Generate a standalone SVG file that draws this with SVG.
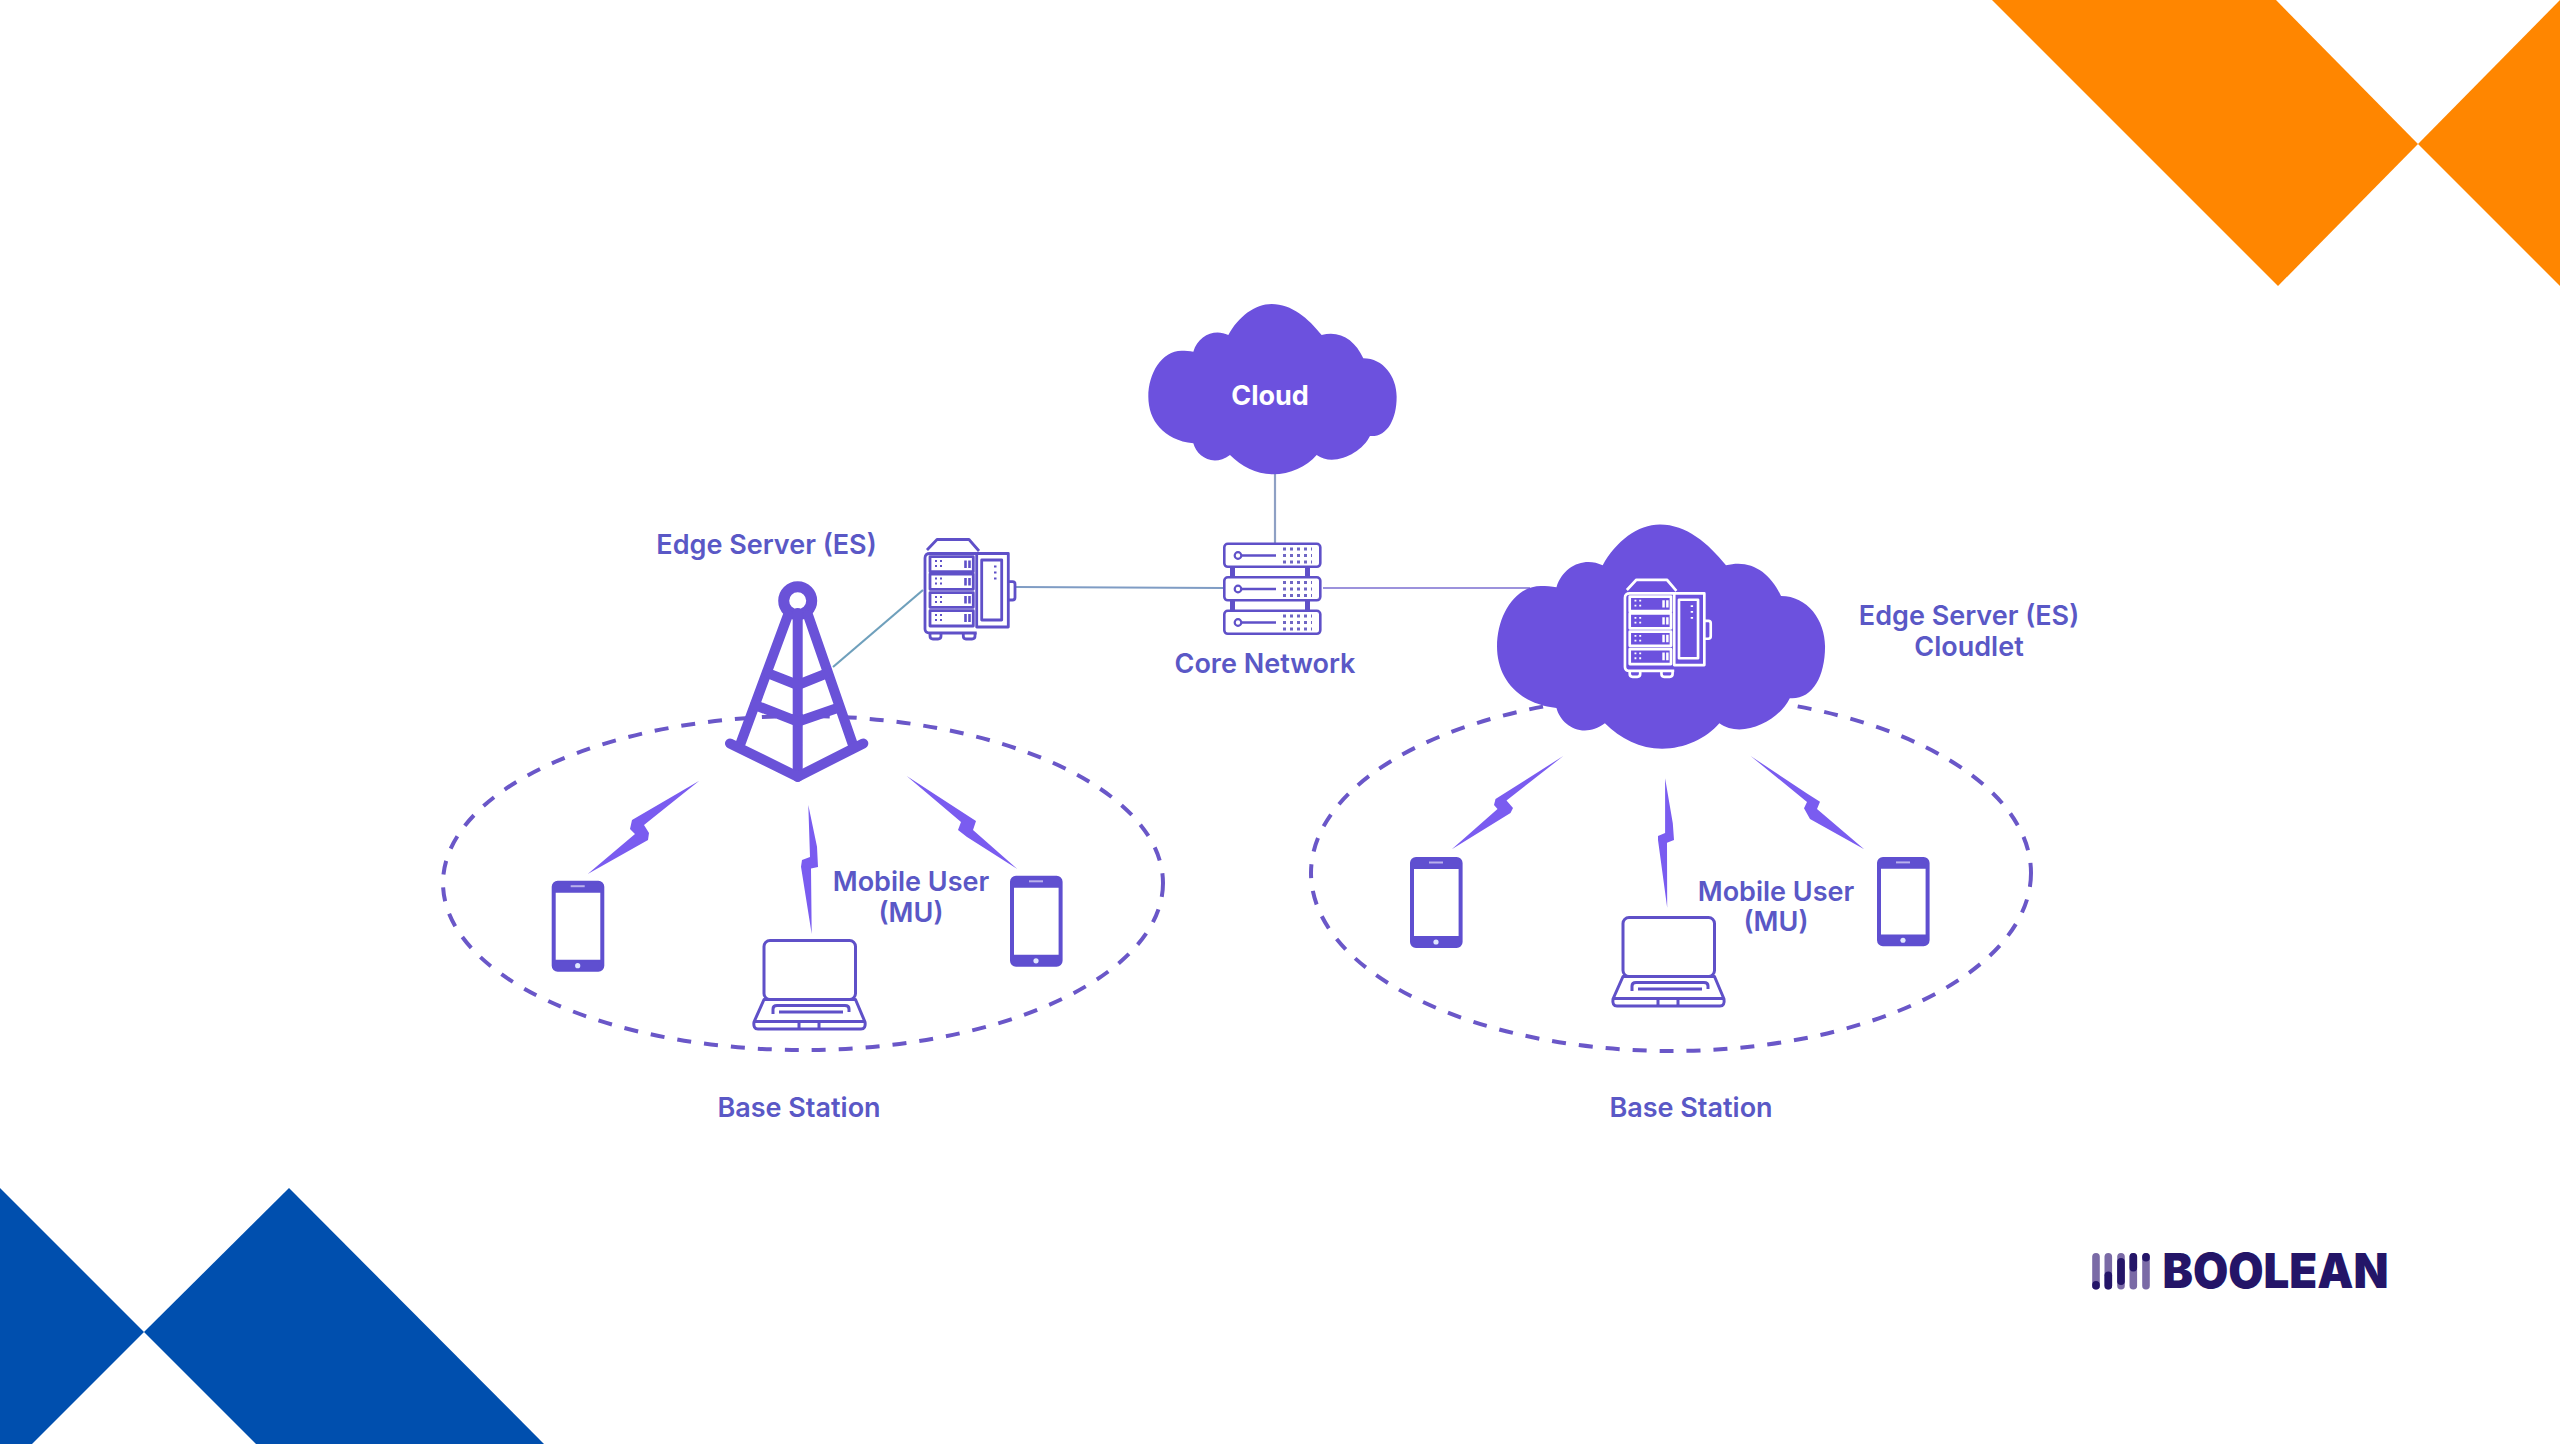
<svg xmlns="http://www.w3.org/2000/svg" width="2560" height="1444" viewBox="0 0 2560 1444">
<style>
text{font-family:Inter,"Noto Sans","Liberation Sans",sans-serif;font-weight:600;fill:#5a58c6;font-size:27px;text-anchor:middle}
.orange{fill:#ff8600}.blue{fill:#004fae}
.zone{fill:none;stroke:#6a57c8;stroke-width:4;stroke-dasharray:14 13}
.bolt{fill:#7a5cf0}
.tw{fill:none;stroke:#6a52d8;stroke-linejoin:round;stroke-linecap:round}
.ln{stroke-width:2.200;fill:none}
</style>
<defs>
<path id="cloudShape" fill="#6c51de" d="M325 165C355 110 405 72 455 72C515 72 565 115 605 165C660 150 705 180 730 235C790 235 830 290 830 350C830 420 800 472 750 468C725 520 640 562 590 525C560 560 510 583 460 583C410 583 365 560 330 525C280 562 230 530 220 490C130 480 85 420 85 350C85 280 125 212 185 212C195 212 210 213 220 215C235 165 285 145 325 165Z"/>
<g id="phone">
<rect x="2" y="2" width="48.600" height="87" rx="4" fill="#fff" stroke="#5f4fd0" stroke-width="4"/>
<path d="M2 11V6a4 4 0 0 1 4-4H46.600a4 4 0 0 1 4 4V11Z M2 80V85a4 4 0 0 0 4 4H46.600a4 4 0 0 0 4-4V80Z" fill="#5f4fd0" stroke="#5f4fd0" stroke-width="2"/>
<rect x="19" y="4.500" width="14" height="2" fill="#b9b0ec"/>
<circle cx="26" cy="85" r="2.600" fill="#dfe6ff"/>
</g>
<g id="laptop" fill="none" stroke="#5f50c8" stroke-width="3" stroke-linejoin="round">
<rect x="11" y="1.500" width="91.500" height="59" rx="6" fill="#fff"/>
<path d="M11 60.500H102.500L112 83Q113 90 108 90H5Q0 90 1 83Z" fill="#fff"/>
<path d="M1 82.500H112"/>
<path d="M20 75V70Q20 66.500 24 66.500H92Q96 66.500 96 70V73M26 73H90"/>
<path d="M46 83V90M66 83V90"/>
</g>
<g id="edgeBox" fill="none" stroke="currentColor" stroke-width="2.800" stroke-linejoin="round">
<path d="M3 12L13 1.500H45L55 13"/>
<path d="M52.700 15.500H6Q1 15.500 1 20V91Q1 95 6 95H52.700"/>
<path d="M52.700 15.500H84.300V89H52.700Z"/>
<rect x="6" y="18.700" width="43.300" height="15"/>
<rect x="6" y="36" width="43.300" height="15.300"/>
<rect x="6" y="54.700" width="43.300" height="14.600"/>
<rect x="6" y="72.700" width="43.300" height="15.300"/>
<rect x="57.700" y="22" width="20" height="60"/>
<path d="M84.300 43.700H88.500Q91 43.700 91 46V59.500Q91 62 88.500 62H84.300"/>
<path d="M6 95V98Q6 101 9 101H14Q17 101 17 98V95M39.300 95V98Q39.300 101 42 101H48Q51 101 51 98V95"/>
<path d="M41.500 22.500V30M45.500 22.500V30M41.500 40V47.500M45.500 40V47.500M41.500 58V65.500M45.500 58V65.500M41.500 76V84M45.500 76V84" stroke-width="2.600"/>
<path d="M11 23H13M16 23H18M11 28H13M16 28H18M11 40.500H13M16 40.500H18M11 45.500H13M16 45.500H18M11 59H13M16 59H18M11 64H13M16 64H18M11 77H13M16 77H18M11 82H13M16 82H18M70 28.500H72.500M70 34.500H72.500M70 40.500H72.500" stroke-width="1.800"/>
</g>
<g id="rackUnit">
<rect x="1.300" y="1.300" width="96" height="23" rx="3.500" fill="#fff" stroke="#5f50c8" stroke-width="2.600"/>
<circle cx="15" cy="13" r="3.300" fill="none" stroke="#5f50c8" stroke-width="2.200"/>
<path d="M18 13H53" stroke="#5f50c8" stroke-width="2.400"/>
<path d="M60 6.500h29M60 13h29M60 19.500h29" stroke="#6f66c4" stroke-width="3" stroke-dasharray="3 4"/>
</g>
</defs>

<rect width="2560" height="1444" fill="#fff"/>

<g id="decor">
<polygon class="orange" points="1992,0 2278,286 2418,144 2276,0"/>
<polygon class="orange" points="2560,0 2418,144 2560,286"/>
<polygon class="blue" points="0,1188 144,1332 32,1444 0,1444"/>
<polygon class="blue" points="289,1188 544,1444 256,1444 144,1332"/>
</g>

<g id="zones">
<ellipse id="zone-left" class="zone" cx="803" cy="883" rx="360" ry="167"/>
<ellipse id="zone-right" class="zone" cx="1671" cy="873" rx="360" ry="178"/>
</g>

<g id="connectors">
<line class="ln" x1="1275" y1="470" x2="1275" y2="543" stroke="#8ea0c4"/>
<line class="ln" x1="1015" y1="587" x2="1223" y2="588" stroke="#7f9cc4"/>
<line class="ln" x1="1323" y1="588" x2="1530" y2="588" stroke="#9c92dc"/>
<line class="ln" x1="833" y1="667" x2="923" y2="590" stroke="#6fa0bc"/>
</g>

<g id="cloud">
<use href="#cloudShape" transform="translate(1120 280) scale(.3333)"/>
<text x="1270" y="405" style="fill:#fff;font-size:27px;font-weight:700">Cloud</text>
</g>

<g id="core-network">
<rect x="1230" y="566" width="5" height="12" fill="#5f50c8"/><rect x="1305" y="566" width="5" height="12" fill="#5f50c8"/>
<rect x="1230" y="600" width="5" height="11" fill="#5f50c8"/><rect x="1305" y="600" width="5" height="11" fill="#5f50c8"/>
<use href="#rackUnit" x="1223" y="542.500"/>
<use href="#rackUnit" x="1223" y="576"/>
<use href="#rackUnit" x="1223" y="609.500"/>
<text x="1265" y="673">Core Network</text>
</g>

<g id="tower">
<g class="tw">
<circle cx="797.700" cy="600.700" r="14" stroke-width="11"/>
<path d="M788 615L740 745M808 615L853 745M797.700 613V777" stroke-width="10"/>
<path d="M730 743.500L797.700 776.700L863.300 743.500" stroke-width="10"/>
<path d="M768.300 673.300L797.700 685L826.700 673.300M755 705L797.700 721.700L836.700 708.300" stroke-width="10"/>
</g>
<text x="766.500" y="554">Edge Server (ES)</text>
</g>

<g id="edge-server">
<use href="#edgeBox" x="924" y="538" style="color:#5f50c8"/>
</g>

<g id="cloudlet">
<use href="#cloudShape" transform="translate(1459.600 493) scale(.4403 .4386)"/>
<use href="#edgeBox" transform="translate(1624 578.300) scale(.953 .975)" style="color:#fff"/>
<text x="1969" y="625">Edge Server (ES)</text>
<text x="1969" y="656">Cloudlet</text>
</g>

<g id="base-left">
<polygon class="bolt" points="699.300,780.700 632,820 630,829 635,834 587.700,874 648,840 649,833 644,825"/>
<polygon class="bolt" points="808.300,805 817,846.700 818,867 811,868.500 811.700,934 801,866.700 802,860 810,857"/>
<polygon class="bolt" points="906.700,776 966.700,815 976,821 973,830 1017.300,869 967,837 958,830 961,822"/>
<use href="#phone" x="551.700" y="880.700"/>
<use href="#phone" x="1010" y="875.800"/>
<use href="#laptop" x="753" y="939"/>
<text x="911" y="891">Mobile User</text>
<text x="911" y="922">(MU)</text>
<text x="799" y="1117">Base Station</text>
</g>

<g id="base-right">
<polygon class="bolt" points="1563.300,756 1495.500,799 1494,805 1497.500,809 1451.800,849.300 1510.500,813 1513,808 1506.500,800.500"/>
<polygon class="bolt" points="1665.100,778.300 1672.800,823.300 1674,840 1667,842.700 1667.200,907.700 1658,840 1658,836 1665.100,833"/>
<polygon class="bolt" points="1750.600,756 1807,793.500 1820,801.700 1817,809 1864.200,849.300 1810,819 1804,808.300 1807,802"/>
<use href="#phone" x="1410" y="857"/>
<use href="#phone" transform="translate(1877 857) scale(1 .98)"/>
<use href="#laptop" x="1612" y="916"/>
<text x="1776" y="901">Mobile User</text>
<text x="1776" y="931">(MU)</text>
<text x="1691" y="1117">Base Station</text>
</g>

<g id="logo">
<g fill="#7a6aa6">
<rect x="2092.200" y="1253" width="7.600" height="36.500" rx="3.800"/>
<rect x="2104.500" y="1253" width="7.600" height="36.500" rx="3.800"/>
<rect x="2117.200" y="1253" width="7.600" height="36.500" rx="3.800"/>
<rect x="2129.500" y="1253" width="7.600" height="36.500" rx="3.800"/>
<rect x="2142.200" y="1253" width="7.600" height="36.500" rx="3.800"/>
</g>
<g fill="#241568">
<rect x="2092.200" y="1281" width="7.600" height="8.500" rx="3.800"/>
<rect x="2104.500" y="1271.500" width="7.600" height="18" rx="3.800"/>
<rect x="2117.200" y="1258" width="7.600" height="27" rx="3.800"/>
<rect x="2129.500" y="1253" width="7.600" height="18.500" rx="3.800"/>
<rect x="2142.200" y="1253" width="7.600" height="8.500" rx="3.800"/>
</g>
<text x="2275.500" y="1288" textLength="226" lengthAdjust="spacingAndGlyphs" style="fill:#241568;font-size:48px;font-weight:900">BOOLEAN</text>
</g>
</svg>
